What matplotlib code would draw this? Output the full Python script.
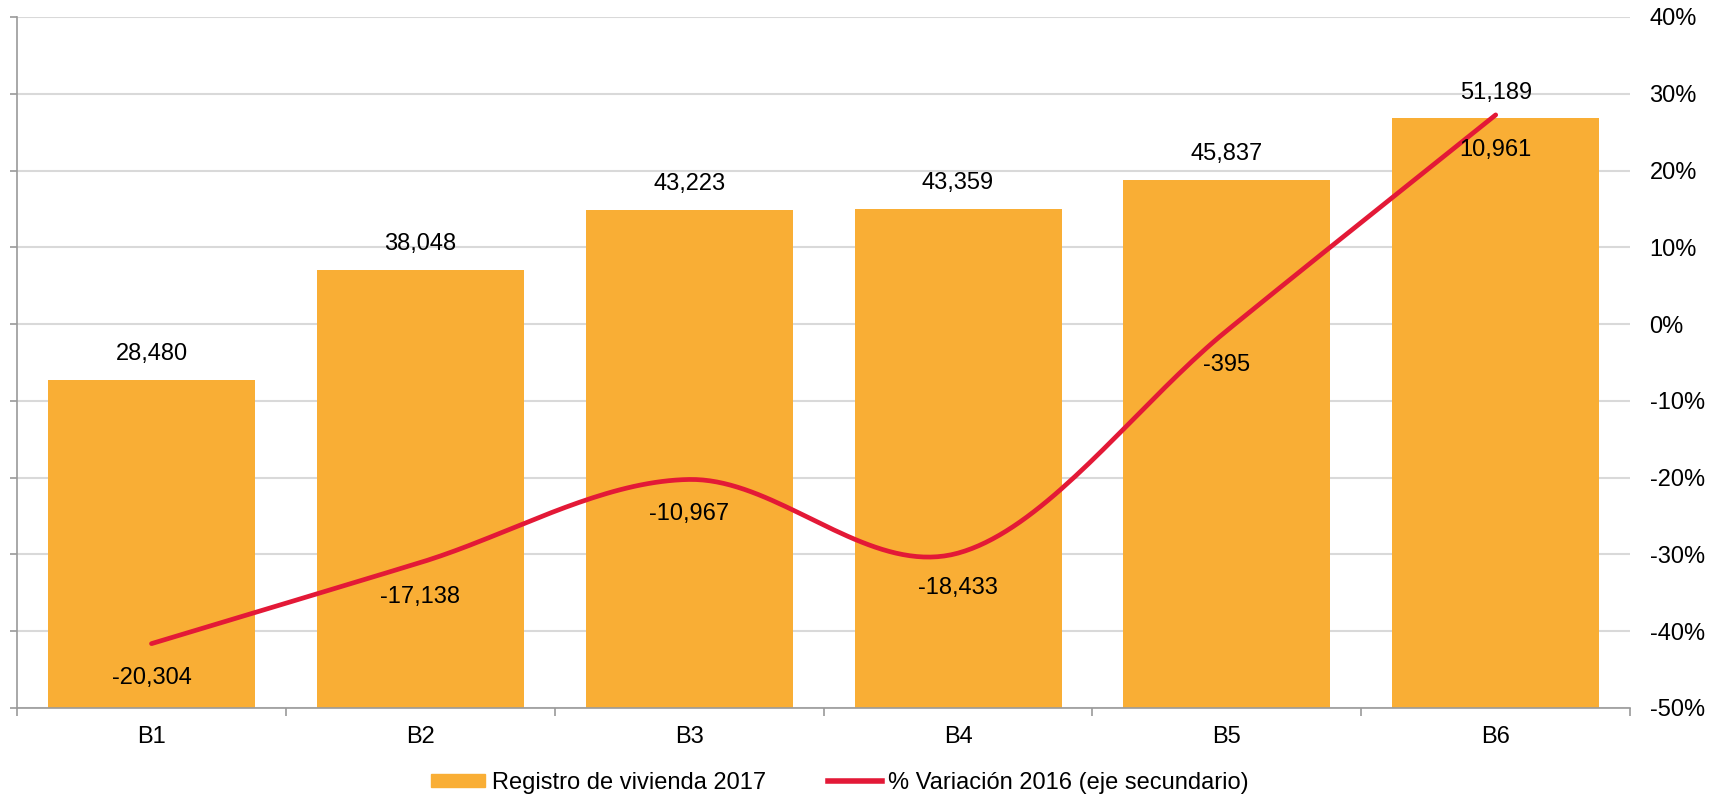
import matplotlib
matplotlib.use("Agg")
import matplotlib.pyplot as plt
from matplotlib.lines import Line2D
from matplotlib.patches import Patch
import numpy as np

categories = ["B1", "B2", "B3", "B4", "B5", "B6"]
registro_2017 = [28480, 38048, 43223, 43359, 45837, 51189]
diferencia_2016 = [-20304, -17138, -10967, -18433, -395, 10961]

BAR_COLOR = "#F9AE35"
LINE_COLOR = "#E31937"
GRID_COLOR = "#D9D9D9"
AXIS_COLOR = "#9A9A9A"

plt.rcParams["font.family"] = ["Liberation Sans", "DejaVu Sans"]
plt.rcParams["font.size"] = 17


def catmull_rom(x, y, steps=40):
    # smooth curve through every point, like a spreadsheet "smoothed line"
    x = np.asarray(x, float)
    y = np.asarray(y, float)
    px = np.concatenate([[2 * x[0] - x[1]], x, [2 * x[-1] - x[-2]]])
    py = np.concatenate([[2 * y[0] - y[1]], y, [2 * y[-1] - y[-2]]])
    xs, ys = [], []
    t = np.linspace(0, 1, steps)
    for i in range(1, len(px) - 2):
        for p, out in ((px, xs), (py, ys)):
            p0, p1, p2, p3 = p[i - 1], p[i], p[i + 1], p[i + 2]
            seg = 0.5 * ((2 * p1) + (-p0 + p2) * t
                         + (2 * p0 - 5 * p1 + 4 * p2 - p3) * t ** 2
                         + (-p0 + 3 * p1 - 3 * p2 + p3) * t ** 3)
            out.extend(seg if i == 1 else seg[1:])
    return np.array(xs), np.array(ys)


def main() -> None:
    registro = np.array(registro_2017, float)
    diff = np.array(diferencia_2016, float)
    # variation vs 2016 in percent, from the 2017 count and the change
    variacion = diff / (registro - diff) * 100

    x = np.arange(len(categories))

    fig = plt.figure(figsize=(17.25, 7.97), dpi=100)
    ax = fig.add_axes([0.0099, 0.1117, 0.9351, 0.867])
    ax2 = ax.twinx()

    ax.bar(x, registro, width=0.77, color=BAR_COLOR, zorder=2)
    ax.set_xlim(-0.5, len(categories) - 0.5)
    ax.set_ylim(0, 60000)
    ax.set_yticks(np.linspace(0, 60000, 10))
    ax.set_yticklabels([])
    ax.set_axisbelow(True)
    ax.grid(axis="y", color=GRID_COLOR, linewidth=1.5)
    ax.tick_params(axis="y", length=5, width=1.2, color=AXIS_COLOR, direction="out")

    ax.set_xticks(x)
    ax.set_xticklabels(categories)
    ax.set_xticks(np.arange(-0.5, len(categories)), minor=True)
    ax.tick_params(axis="x", which="major", length=0, pad=13)
    ax.tick_params(axis="x", which="minor", length=6, width=1.2, color=AXIS_COLOR)

    for side in ("top", "right"):
        ax.spines[side].set_visible(False)
    for side in ("left", "bottom"):
        ax.spines[side].set_color(AXIS_COLOR)
        ax.spines[side].set_linewidth(1.2)

    for xi, v in zip(x, registro_2017):
        ax.annotate(f"{v:,}", (xi, v), xytext=(0, 18.5), textcoords="offset points",
                    ha="center", va="center")

    sx, sy = catmull_rom(x, variacion)
    ax2.plot(sx, sy, color=LINE_COLOR, linewidth=3.4, solid_capstyle="round", zorder=3)
    ax2.set_ylim(-50, 40)
    ax2.set_yticks(np.arange(-50, 41, 10))
    ax2.set_yticklabels([f"{t}%" for t in range(-50, 41, 10)])
    ax2.tick_params(axis="y", length=0, pad=14)
    for side in ("top", "right", "left", "bottom"):
        ax2.spines[side].set_visible(False)

    for xi, yi, d in zip(x, variacion, diferencia_2016):
        ax2.annotate(f"{d:,}", (xi, yi), xytext=(0, -25), textcoords="offset points",
                     ha="center", va="center")

    handles = [
        Patch(color=BAR_COLOR, label="Registro de vivienda 2017"),
        Line2D([], [], color=LINE_COLOR, linewidth=4,
               label="% Variación 2016 (eje secundario)"),
    ]
    fig.legend(handles=handles, loc="center", bbox_to_anchor=(0.487, 0.018),
               ncol=2, frameon=False, handlelength=2.3, handleheight=0.5,
               handletextpad=0.28, columnspacing=2.6)

    fig.savefig("out.png", dpi=100)
    plt.close(fig)


if __name__ == "__main__":
    main()
